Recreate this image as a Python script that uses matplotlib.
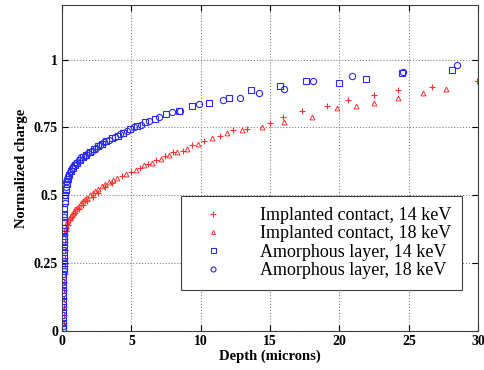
"""
Normalized charge vs depth: implanted contact vs amorphous layer.
"""

import matplotlib

matplotlib.use("Agg")
import matplotlib.pyplot as plt

# Implanted contact, 14 keV
imp14_depth = [0.12, 0.13, 0.14, 0.15, 0.16, 0.17, 0.18, 0.19, 0.2, 0.21, 0.22, 0.24,
               0.27, 0.3, 0.4, 0.55, 0.75, 0.95, 1.2, 1.5, 1.8,
               2.2, 2.6, 3.1, 3.6, 4.3, 5.0, 5.6, 6.2, 6.8, 7.4, 8.0, 8.7, 9.4, 10.2,
               11.4, 12.3, 13.3, 15.0, 15.9, 17.3, 19.1, 20.6, 22.5, 24.2, 26.7, 29.9]
imp14_charge = [0.03, 0.06, 0.09, 0.12, 0.15, 0.18, 0.21, 0.24, 0.27, 0.30, 0.33, 0.355,
                0.37, 0.38, 0.39, 0.41, 0.42, 0.435, 0.45, 0.465,
                0.48, 0.495, 0.51, 0.53, 0.545, 0.57, 0.585, 0.6, 0.615, 0.63, 0.645,
                0.66, 0.665, 0.684, 0.70, 0.72, 0.74, 0.746, 0.765, 0.79, 0.81, 0.83,
                0.85, 0.87, 0.886, 0.90, 0.92]

# Implanted contact, 18 keV
imp18_depth = [0.2, 0.25, 0.35, 0.45, 0.55, 0.65, 0.75, 0.85, 0.95, 1.05, 1.2, 1.35, 1.5,
               1.65, 1.8, 2.0, 2.2, 2.4, 2.6, 2.85, 3.1, 3.35, 3.65,
               3.95, 4.6, 5.3, 5.9, 6.5, 7.1, 7.7, 8.3, 9.0, 9.8, 10.8, 11.9, 13.0, 14.4,
               16.0, 18.0, 19.8, 21.2, 22.5, 24.2, 26.0, 27.7]
imp18_charge = [0.36, 0.38, 0.40, 0.41, 0.418, 0.425, 0.432, 0.44, 0.448, 0.455, 0.462,
                0.47, 0.478, 0.485, 0.492, 0.50, 0.508, 0.515, 0.525,
                0.535, 0.542, 0.55, 0.558, 0.565, 0.58, 0.595, 0.61, 0.62, 0.635, 0.65,
                0.66, 0.672, 0.69, 0.71, 0.73, 0.74, 0.75, 0.77, 0.79, 0.82, 0.83, 0.84,
                0.86, 0.875, 0.89]

# Amorphous layer, 14 keV
amo14_depth = [0.05, 0.055, 0.06, 0.065, 0.07, 0.075, 0.08, 0.085, 0.09, 0.095, 0.10,
               0.105, 0.11, 0.115, 0.12, 0.125, 0.13, 0.135, 0.14, 0.15, 0.16, 0.17,
               0.19, 0.22, 0.26, 0.32, 0.40, 0.50, 0.62, 0.76, 0.92, 1.1, 1.3, 1.5, 1.75,
               2.0, 2.3, 2.6, 2.9, 3.2, 3.6, 4.0, 4.4, 4.9, 5.4, 6.0, 6.7, 7.5, 8.4, 9.4,
               10.6, 12.0, 13.6, 15.7, 17.6, 20.0, 21.9, 24.5, 28.1]
amo14_charge = [0.01, 0.03, 0.05, 0.07, 0.09, 0.11, 0.13, 0.15, 0.17, 0.19, 0.21, 0.23,
                0.25, 0.27, 0.29, 0.31, 0.33, 0.35, 0.37, 0.40, 0.43, 0.45,
                0.48, 0.50, 0.52, 0.54, 0.56, 0.575, 0.59, 0.60, 0.61, 0.62, 0.63, 0.64,
                0.65, 0.66, 0.67, 0.68, 0.69, 0.70, 0.71, 0.72, 0.73, 0.745, 0.755, 0.77,
                0.78, 0.80, 0.81, 0.83, 0.84, 0.86, 0.886, 0.904, 0.92, 0.915, 0.93,
                0.95, 0.96]

# Amorphous layer, 18 keV
amo18_depth = [0.06, 0.07, 0.08, 0.09, 0.10, 0.11, 0.12, 0.13, 0.14, 0.15, 0.16, 0.18,
               0.21, 0.25, 0.3, 0.36, 0.45, 0.56, 0.7, 0.85, 1.0, 1.2, 1.4, 1.65, 1.9,
               2.15, 2.45, 2.75, 3.05, 3.4, 3.8, 4.2, 4.65, 5.15, 5.7, 6.3, 7.0, 7.9, 8.5,
               9.9, 11.6, 12.8, 14.2, 16.0, 18.1, 20.9, 24.6, 28.5]
amo18_charge = [0.02, 0.06, 0.10, 0.14, 0.18, 0.22, 0.26, 0.30, 0.34, 0.38, 0.42, 0.47,
                0.5, 0.53, 0.55, 0.56, 0.57, 0.585, 0.60, 0.61, 0.62, 0.63, 0.64, 0.645,
                0.655, 0.665, 0.675, 0.685, 0.695, 0.705, 0.715, 0.725, 0.735, 0.75, 0.76,
                0.775, 0.79, 0.805, 0.81, 0.835, 0.85, 0.86, 0.875, 0.89, 0.92, 0.94,
                0.955, 0.98]

xticks = [0, 5, 10, 15, 20, 25, 30]
yticks = [0, 0.25, 0.5, 0.75, 1]
ytick_labels = ["0", "0.25", "0.5", "0.75", "1"]

plt.rcParams["font.family"] = ["Liberation Serif", "DejaVu Serif"]

fig = plt.figure(figsize=(4.85, 3.7), dpi=100)
ax = fig.add_axes([0.128, 0.105, 0.858, 0.881])

red = "#ff3030"
blue = "#2a2aff"
ax.plot(imp14_depth, imp14_charge, "+", color=red, ms=5, mew=0.8,
        label="Implanted contact, 14 keV")
ax.plot(imp18_depth, imp18_charge, "^", color=red, mfc="none", ms=3.5, mew=0.7,
        label="Implanted contact, 18 keV")
ax.plot(amo14_depth, amo14_charge, "s", color=blue, mfc="none", ms=4.5, mew=0.8,
        label="Amorphous layer, 14 keV")
ax.plot(amo18_depth, amo18_charge, "o", color=blue, mfc="none", ms=4.5, mew=0.8,
        label="Amorphous layer, 18 keV")

ax.set_xlim(0, 30)
ax.set_ylim(0, 1.2)
ax.set_xticks(xticks)
ax.set_yticks(yticks)
ax.set_yticklabels(ytick_labels)
ax.tick_params(direction="in", length=4, width=0.8, labelsize=10, pad=3,
               top=True, right=True)
for lbl in ax.get_xticklabels() + ax.get_yticklabels():
    lbl.set_fontweight("bold")
ax.grid(True, ls=":", color="#808080", lw=0.8)
for s in ax.spines.values():
    s.set_color("#404040")
    s.set_linewidth(0.8)

ax.set_xlabel("Depth (microns)", fontsize=10.5, fontweight="bold", labelpad=1)
ax.set_ylabel("Normalized charge", fontsize=10.5, fontweight="bold", labelpad=4)

leg = ax.legend(loc="lower right", bbox_to_anchor=(0.962, 0.126), borderaxespad=0,
                fontsize=13, numpoints=1, fancybox=False, framealpha=1,
                edgecolor="#404040", handlelength=2.4, handletextpad=1.4,
                labelspacing=0.08, borderpad=0.6, markerscale=0.8)
leg.get_frame().set_linewidth(0.8)

fig.savefig("out.png", dpi=100)
